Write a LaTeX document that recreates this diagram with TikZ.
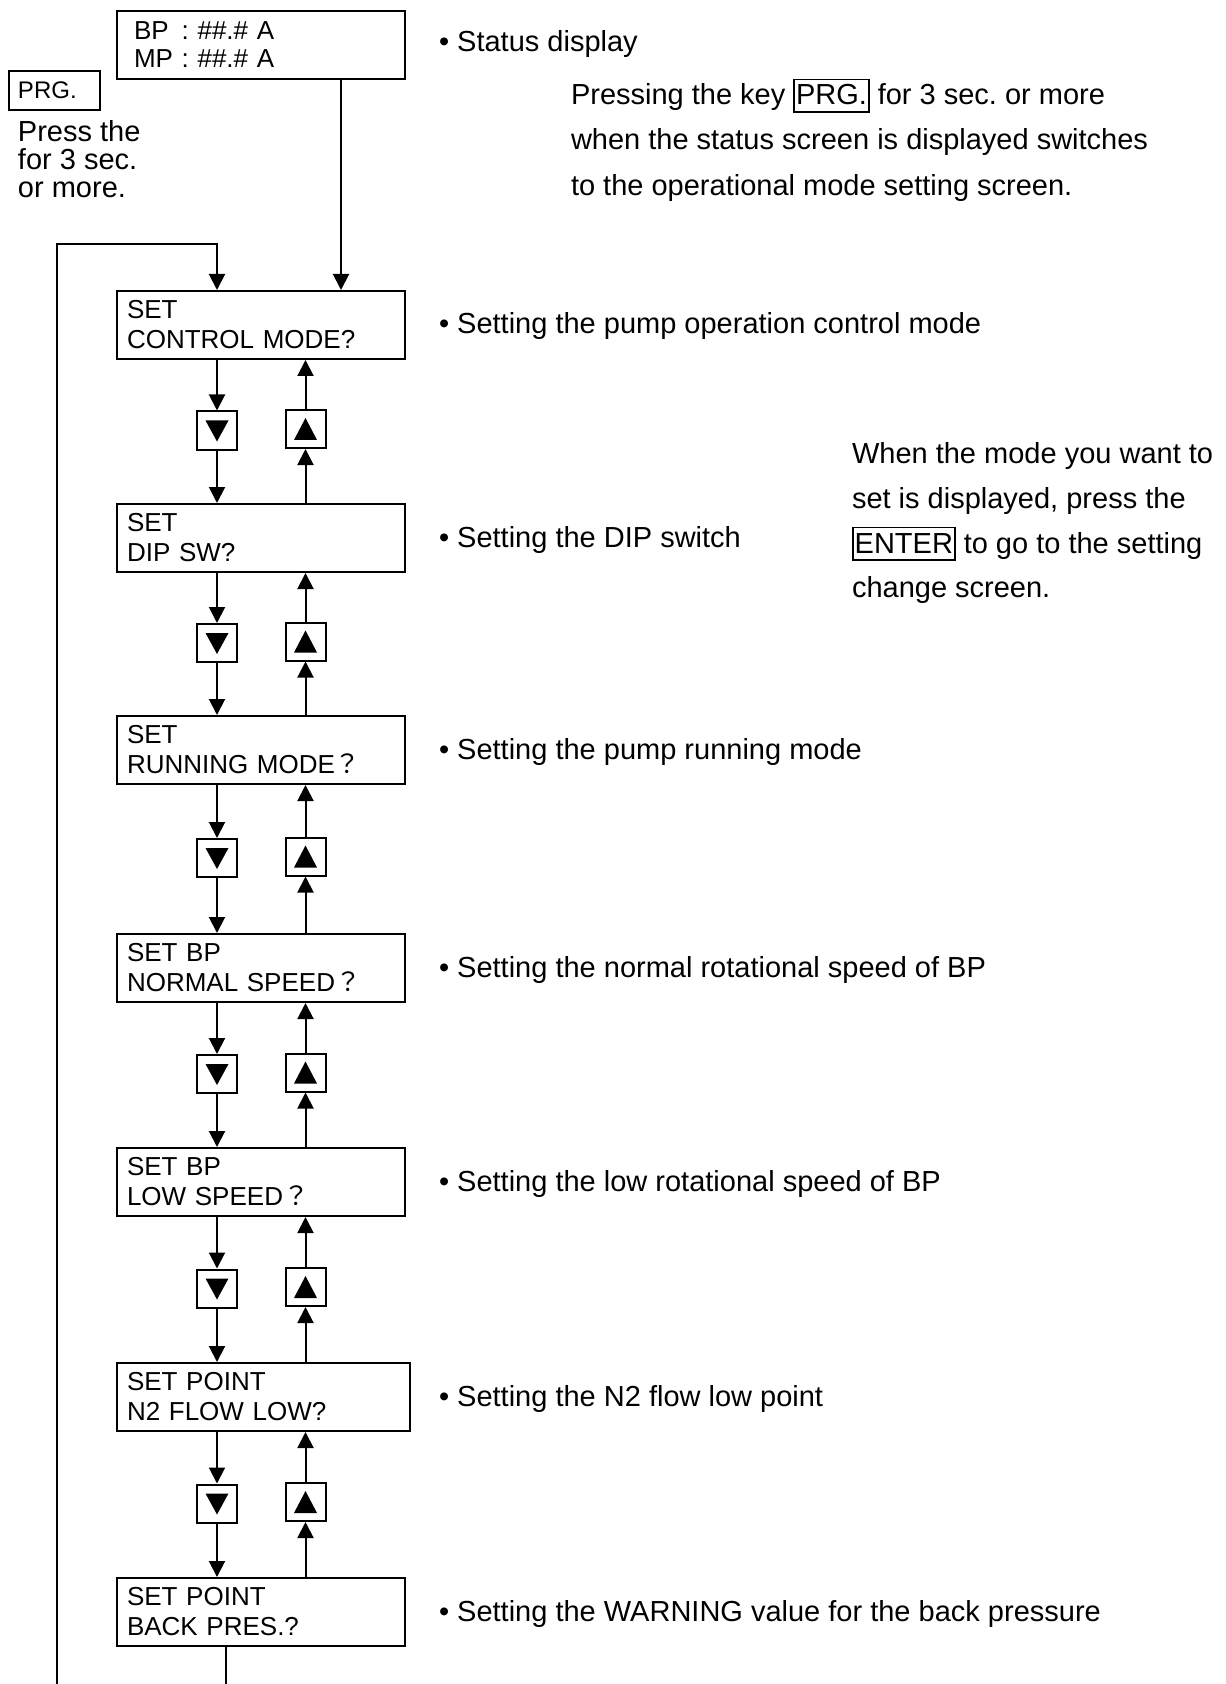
\documentclass[tikz,border=0pt]{standalone}
\usepackage{fontspec}
\setmainfont{Liberation Sans}
\newfontfamily\cjk{Noto Sans CJK JP}
\usetikzlibrary{arrows.meta}
\frenchspacing
\newcommand\keyface[1]{{\setlength\fboxsep{0.6pt}\setlength\fboxrule{0.75pt}\fbox{\rule[-2.5pt]{0pt}{14.3pt}#1}}}
\begin{document}
\begin{tikzpicture}[x=0.5pt,y=-0.5pt,line width=1pt,
  >={Triangle[width=8pt,length=8pt]},
  screen/.style={draw,anchor=north west,minimum height=34pt,text width=134pt,
    inner xsep=5pt,inner ysep=0pt,align=left,font=\fontsize{13}{15}\selectfont},
  statbox/.style={draw,anchor=north west,minimum height=34pt,text width=127pt,
    inner xsep=8.5pt,inner ysep=0pt,align=left,font=\fontsize{13}{14}\selectfont},
  prgbox/.style={draw,anchor=north west,minimum height=19.5pt,text width=36.5pt,
    inner xsep=4.5pt,inner ysep=0pt,align=left,font=\fontsize{12}{14}\selectfont},
  keybox/.style={draw,minimum width=20pt,minimum height=19pt,inner sep=0pt},
  lbl/.style={anchor=base west,inner sep=0pt,font=\fontsize{14.5}{22.5}\selectfont},
]
\useasboundingbox (0,0) rectangle (1225,1684);

% status screen and PRG key
\node[statbox] (st) at (116,10) {\makebox[1.5em][l]{BP} : \#\#.\# A\\\makebox[1.5em][l]{MP} : \#\#.\# A};
\node[prgbox] (prg) at (8,70) {PRG.};
\node[lbl] (p1) at (17,142) {Press the};
\node[lbl] (p2) at (17,170) {for 3 sec.};
\node[lbl] (p3) at (17,198) {or more.};

% setting screens
\node[screen] (b1) at (116,290) {SET\\CONTROL MODE?};
\node[screen] (b2) at (116,503) {SET\\DIP SW?};
\node[screen] (b3) at (116,715) {SET\\RUNNING MODE{\cjk ？}};
\node[screen] (b4) at (116,933) {SET BP\\NORMAL SPEED{\cjk ？}};
\node[screen] (b5) at (116,1147) {SET BP\\LOW SPEED{\cjk ？}};
\node[screen,text width=136.5pt] (b6) at (116,1362) {SET POINT\\N2 FLOW LOW?};
\node[screen] (b7) at (116,1577) {SET POINT\\BACK PRES.?};

% descriptions
\node[lbl] (t0) at (438,52) {• Status display};
\node[lbl] (t1) at (438,334) {• Setting the pump operation control mode};
\node[lbl] (t2) at (438,547) {• Setting the DIP switch};
\node[lbl] (t3) at (438,759) {• Setting the pump running mode};
\node[lbl] (t4) at (438,977) {• Setting the normal rotational speed of BP};
\node[lbl] (t5) at (438,1191) {• Setting the low rotational speed of BP};
\node[lbl] (t6) at (438,1406) {• Setting the N2 flow low point};
\node[lbl] (t7) at (438,1621) {• Setting the WARNING value for the back pressure};

\node[lbl] (n1) at (570,105) {Pressing the key \keyface{PRG.} for 3 sec. or more};
\node[lbl] (n2) at (570,150) {when the status screen is displayed switches};
\node[lbl] (n3) at (570,196) {to the operational mode setting screen.};

\node[lbl] (m1) at (851,463) {When the mode you want to};
\node[lbl] (m2) at (851,508) {set is displayed, press the};
\node[lbl] (m3) at (851,553) {\keyface{ENTER} to go to the setting};
\node[lbl] (m4) at (851,597) {change screen.};

% arrow keys
\foreach \i/\my in {1/430.5,2/643,3/858,4/1074,5/1288.5,6/1503.5}{
  \node[keybox] (d\i) at (217,\my) {};
  \node[keybox] (u\i) at (305.5,\my-1.5) {};
  \fill ([shift={(-11.5,-10)}]d\i.center) -- ([shift={(11.5,-10)}]d\i.center) -- ([shift={(0,11)}]d\i.center) -- cycle;
  \fill ([shift={(-11.5,11)}]u\i.center) -- ([shift={(11.5,11)}]u\i.center) -- ([shift={(0,-11)}]u\i.center) -- cycle;
}

% connectors between screens and keys
\foreach \i/\j in {1/2,2/3,3/4,4/5,5/6,6/7}{
  \draw[->] (d\i |- b\i.south) -- (d\i.north);
  \draw[->] (d\i.south) -- (d\i |- b\j.north);
  \draw[->] (u\i |- b\j.north) -- (u\i.south);
  \draw[->] (u\i.north) -- (u\i |- b\i.south);
}

% status -> first screen
\coordinate (sx) at (341,0);
\draw[->] (sx |- st.south) -- (sx |- b1.north);

% return loop
\coordinate (loopbot) at (57,1684);
\coordinate (looptop) at (217,244);
\draw[->] (loopbot) |- (looptop) -- (looptop |- b1.north);

% exit from last screen
\coordinate (exitbot) at (226,1684);
\draw (exitbot |- b7.south) -- (exitbot);
\end{tikzpicture}
\end{document}
